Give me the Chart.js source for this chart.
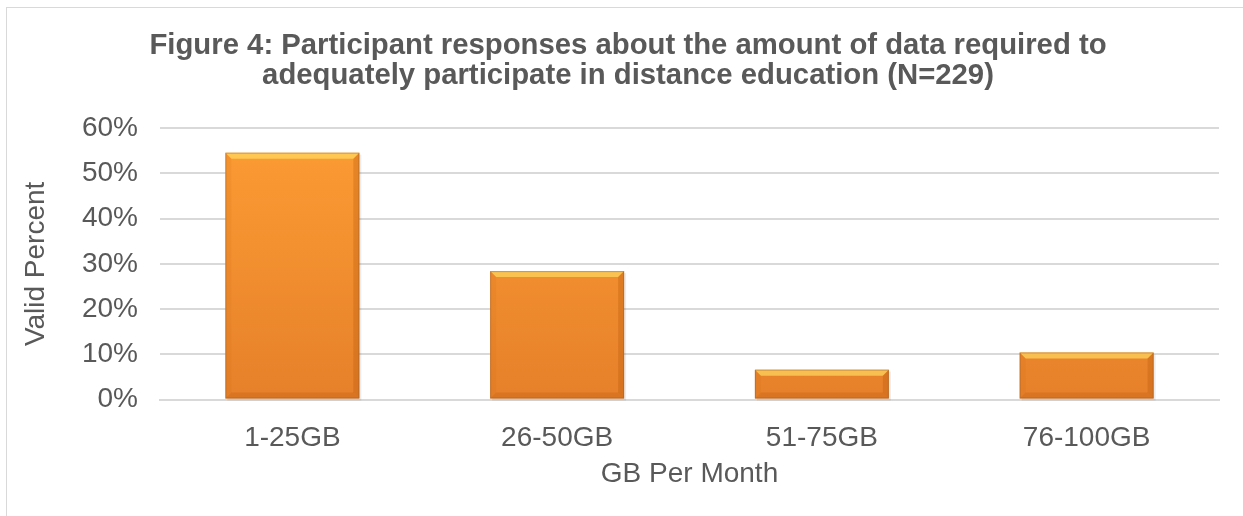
<!DOCTYPE html>
<html>
<head>
<meta charset="utf-8">
<script src="https://cdn.jsdelivr.net/npm/chart.js@4.4.0/dist/chart.umd.min.js"></script>
<style>
  html, body { margin: 0; padding: 0; background: #fff; overflow: hidden; }
  #frame {
    position: absolute; left: 6px; top: 7px;
    width: 1250px; height: 530px;
    border: 1px solid #d9d9d9;
    box-sizing: border-box;
  }
  #chartBox { position: absolute; left: 0; top: 0; width: 1244px; height: 508px; }
</style>
</head>
<body>
<div id="frame"><div id="chartBox"><canvas id="dataChart"></canvas></div></div>
<script>
// Chart data
const categories = ['1-25GB', '26-50GB', '51-75GB', '76-100GB'];
const validPercent = [54.6, 28.4, 6.6, 10.4];
const yTicks = [0, 10, 20, 30, 40, 50, 60];

const textColor = '#595959';
const font = 'Liberation Sans, Arial, sans-serif';

function barFill(context) {
    const chart = context.chart;
    const area = chart.chartArea;
    if (!area) return '#F7932F';
    const g = chart.ctx.createLinearGradient(0, area.top, 0, area.bottom);
    g.addColorStop(0, '#FD9D34');
    g.addColorStop(1, '#E6802A');
    return g;
}

// Soft bevel on the edges of each bar
const bevelPlugin = {
    id: 'bevel',
    beforeDatasetsDraw(chart) {
        const ctx = chart.ctx;
        ctx.save();
        chart.getDatasetMeta(0).data.forEach(bar => {
            ctx.fillStyle = 'rgba(0,0,0,0.08)';
            ctx.fillRect(bar.x - bar.width / 2 + 2, bar.y + 2, bar.width, bar.base - bar.y);
        });
        ctx.restore();
    },
    afterDatasetsDraw(chart) {
        const ctx = chart.ctx;
        chart.getDatasetMeta(0).data.forEach(bar => {
            const left = bar.x - bar.width / 2;
            const right = bar.x + bar.width / 2;
            const top = bar.y;
            const bottom = bar.base;
            const e = 6;
            ctx.save();
            ctx.fillStyle = 'rgba(255, 225, 100, 0.65)';
            ctx.beginPath();
            ctx.moveTo(left, top); ctx.lineTo(right, top);
            ctx.lineTo(right - e, top + e); ctx.lineTo(left + e, top + e);
            ctx.closePath(); ctx.fill();
            ctx.fillStyle = 'rgba(210, 110, 20, 0.15)';
            ctx.beginPath();
            ctx.moveTo(left, top); ctx.lineTo(left + e, top + e);
            ctx.lineTo(left + e, bottom - e); ctx.lineTo(left, bottom);
            ctx.closePath(); ctx.fill();
            ctx.fillStyle = 'rgba(180, 85, 10, 0.3)';
            ctx.beginPath();
            ctx.moveTo(right, top); ctx.lineTo(right - e, top + e);
            ctx.lineTo(right - e, bottom - e); ctx.lineTo(right, bottom);
            ctx.closePath(); ctx.fill();
            ctx.fillStyle = 'rgba(180, 85, 10, 0.25)';
            ctx.beginPath();
            ctx.moveTo(left, bottom); ctx.lineTo(left + e, bottom - e);
            ctx.lineTo(right - e, bottom - e); ctx.lineTo(right, bottom);
            ctx.closePath(); ctx.fill();
            ctx.strokeStyle = 'rgba(160, 90, 30, 0.45)';
            ctx.lineWidth = 1;
            ctx.strokeRect(left + 0.5, top + 0.5, bar.width - 1, bottom - top - 1);
            ctx.restore();
        });
    }
};

new Chart(document.getElementById('dataChart'), {
    type: 'bar',
    data: {
        labels: categories,
        datasets: [{
            label: 'Valid Percent',
            data: validPercent,
            backgroundColor: barFill,
            borderWidth: 0,
            barPercentage: 0.506,
            categoryPercentage: 1.0
        }]
    },
    options: {
        responsive: true,
        maintainAspectRatio: false,
        animation: false,
        layout: { padding: { left: 30, right: 32, top: 0, bottom: 28 } },
        plugins: {
            legend: { display: false },
            tooltip: { enabled: false },
            title: {
                display: true,
                text: ['Figure 4: Participant responses about the amount of data required to',
                       'adequately participate in distance education (N=229)'],
                color: textColor,
                font: { family: font, size: 29.3, weight: 'bold', lineHeight: 1.02 },
                padding: { top: 23, bottom: 37.5 }
            }
        },
        scales: {
            x: {
                afterFit: axis => { axis.height = 88.5; },
                grid: { display: false, drawTicks: false },
                border: { color: '#d9d9d9', width: 2 },
                ticks: { color: textColor, font: { family: font, size: 28 }, padding: 22 },
                title: {
                    display: true, text: 'GB Per Month', color: textColor,
                    font: { family: font, size: 28 }, padding: { top: 0, bottom: -3 }
                }
            },
            y: {
                min: 0,
                max: 60,
                afterFit: axis => { axis.width = 123; },
                afterBuildTicks: axis => { axis.ticks = yTicks.map(v => ({ value: v })); },
                grid: { color: '#d9d9d9', lineWidth: 2, drawTicks: false },
                border: { display: false },
                ticks: {
                    color: textColor, font: { family: font, size: 28 }, padding: 22,
                    callback: v => v + '%'
                },
                title: {
                    display: true, text: 'Valid Percent', color: textColor,
                    font: { family: font, size: 28 }, padding: { top: -18, bottom: 0 }
                }
            }
        }
    },
    plugins: [bevelPlugin]
});
</script>
</body>
</html>
